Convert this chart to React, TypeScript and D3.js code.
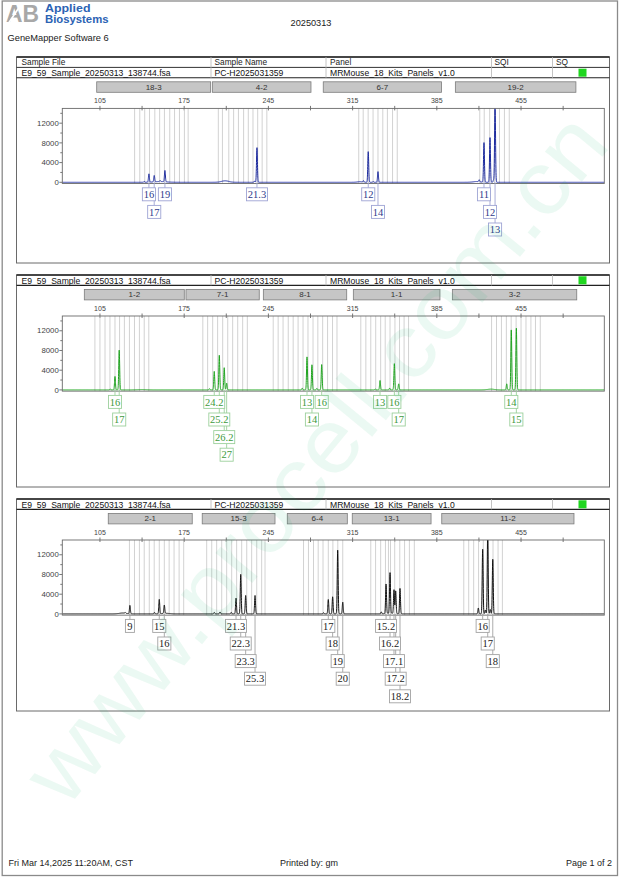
import React from "react";
import * as d3 from "d3";

// ---------------- data ----------------
const reportTitle = "20250313";
const softwareName = "GeneMapper Software 6";
const tableHeaders = ["Sample File", "Sample Name", "Panel", "SQI", "SQ"];
const sampleFile = "E9_59_Sample_20250313_138744.fsa";
const sampleName = "PC-H2025031359";
const panelName = "MRMouse_18_Kits_Panels_v1.0";
const footerLeft = "Fri Mar 14,2025 11:20AM, CST";
const footerMid = "Printed by: gm";
const footerRight = "Page 1 of 2";
const watermarkText = "www.procell.com.cn";

const sizeDomain = [73.7, 524.2];
const xTicks = [105, 140, 175, 210, 245, 280, 315, 350, 385, 420, 455, 490];
const xTickLabels = [105, 175, 245, 315, 385, 455];
const yTicks = [0, 2000, 4000, 6000, 8000, 10000, 12000, 14000];
const yTickLabels = [0, 4000, 8000, 12000];
const rfuMax = 15000;

// marker bars: [name, start bp, end bp]
const markersBlue: [string, number, number][] = [
  ["18-3", 102.3, 197.0], ["4-2", 198.4, 280.4], ["6-7", 290.6, 388.9], ["19-2", 400.4, 500.6],
];
const markersGreen: [string, number, number][] = [
  ["1-2", 92.0, 175.1], ["7-1", 176.5, 237.4], ["8-1", 240.8, 310.1], ["1-1", 315.6, 387.6], ["3-2", 397.9, 501.3],
];
const markersBlack: [string, number, number][] = [
  ["2-1", 111.9, 181.7], ["15-3", 190.0, 250.5], ["6-4", 260.7, 310.6], ["13-1", 314.7, 380.2], ["11-2", 389.1, 499.0],
];

// allele bins (bp)
const binsBlue = [
  133.8, 138.1, 142.2, 146.2, 150.6, 154.6, 158.6, 163.0, 167.0, 171.1, 175.2, 178.3,
  203.4, 206.8, 212.1, 216.1, 220.1, 224.4, 228.3, 232.2, 236.1, 239.8, 243.7,
  320.1, 323.8, 327.9, 332.0, 336.1, 340.1, 343.9, 348.2, 352.1,
  420.7, 424.4, 428.9, 433.0, 437.1, 441.2, 445.2,
];
const binsGreen = [
  100.8, 105.0, 109.2, 113.3, 117.5, 121.3, 125.3, 129.5, 133.7, 137.8, 141.8, 145.6,
  190.5, 194.5, 198.7, 202.8, 207.0, 211.2, 215.3, 219.5, 223.6, 227.5,
  249.0, 253.1, 257.2, 261.5, 265.6, 269.7, 273.8, 277.9, 282.1, 286.1, 290.1, 294.2, 298.3, 302.0,
  321.8, 326.0, 330.1, 334.2, 338.3, 342.1, 346.1, 350.2, 354.0, 357.8, 361.5,
  430.5, 434.6, 438.7, 442.8, 446.8, 450.9, 455.0, 459.1, 463.2, 467.0, 471.0,
];
const binsBlack = [
  129.5, 133.7, 137.8, 141.8, 146.0, 150.1, 154.3, 158.5, 162.5, 166.6, 170.8, 174.6,
  193.7, 197.9, 202.0, 206.2, 210.3, 214.5, 218.6, 222.8, 227.0, 231.1, 235.3, 239.4, 242.2,
  274.2, 278.3, 282.5, 286.4, 290.4, 294.8, 298.6, 302.7, 306.8,
  330.1, 334.1, 338.3, 342.3, 344.8, 346.5, 350.0, 354.2, 358.2, 362.2, 366.3,
  407.4, 411.5, 415.6, 419.7, 423.6, 427.6, 431.7, 435.9, 439.5,
];

// called alleles: [size bp, height RFU, allele]
const allelesBlue: [number, number, string][] = [
  [145.7, 1690, "16"], [150.1, 1290, "17"], [159.0, 2300, "19"], [235.5, 7040, "21.3"],
  [328.0, 6230, "12"], [336.1, 2170, "14"], [424.2, 8050, "11"], [429.2, 9070, "12"], [433.4, 16500, "13"],
];
const allelesGreen: [number, number, string][] = [
  [117.5, 2730, "16"], [121.0, 8070, "17"], [200.0, 3760, "24.2"], [204.2, 7040, "25.2"],
  [208.3, 4510, "26.2"], [210.3, 1370, "27"], [277.1, 6700, "13"], [281.2, 5100, "14"],
  [289.3, 5150, "16"], [337.8, 1910, "13"], [349.7, 5330, "16"], [353.3, 1230, "17"],
  [446.9, 12170, "14"], [451.1, 12510, "15"],
];
const allelesBlack: [number, number, string][] = [
  [129.9, 1700, "9"], [154.3, 2930, "15"], [158.5, 1700, "16"], [218.1, 3200, "21.3"],
  [222.0, 8030, "22.3"], [226.1, 3740, "23.3"], [233.9, 3740, "25.3"], [294.8, 2920, "17"],
  [298.4, 3470, "18"], [302.6, 12920, "19"], [306.8, 2380, "20"], [342.8, 5990, "15.2"],
  [346.1, 8230, "16.2"], [349.4, 4830, "17.1"], [350.8, 4630, "17.2"], [354.4, 5170, "18.2"],
  [423.1, 13130, "16"], [427.3, 16500, "17"], [431.5, 11090, "18"],
];

// uncalled small peaks: [size bp, height]
const minorBlue: [number, number][] = [
  [141.8, 150], [155.0, 200], [233.5, 250], [324.0, 300], [332.1, 150], [420.2, 400], [432.2, 500],
];
const minorGreen: [number, number][] = [
  [113.5, 200], [196.0, 250], [273.1, 350], [285.3, 300], [333.8, 200], [345.8, 350], [443.1, 1230],
];
const minorBlack: [number, number][] = [
  [126.0, 150], [150.3, 300], [200.0, 300], [204.8, 400], [214.1, 300], [290.8, 250],
  [338.8, 400], [419.5, 1200], [425.3, 800], [429.4, 900],
];

// broad baseline bumps: [center bp, height, width bp]
const bumpsBlue: [number, number, number][] = [[155, 150, 5], [209, 300, 3], [321, 120, 2], [418, 150, 3]];
const bumpsGreen: [number, number, number][] = [[140, 60, 4], [430, 150, 3]];
const bumpsBlack: [number, number, number][] = [[124, 180, 3], [160, 120, 3], [346, 150, 3]];

// ---------------- helpers ----------------
const xScale = d3.scaleLinear().domain(sizeDomain).range([62.3, 604.3]);
const grid = d3.range(sizeDomain[0], sizeDomain[1], 0.06);

function signal(bp: number, alleles: [number, number, string][], minor: [number, number][], bumps: [number, number, number][]) {
  let v = 0;
  const sig = 0.38;
  for (const [p, h] of alleles) {
    const d = (bp - p) / sig;
    if (Math.abs(d) < 7) v += h * Math.exp(-0.5 * d * d);
  }
  for (const [p, h] of minor) {
    const d = (bp - p) / sig;
    if (Math.abs(d) < 7) v += h * Math.exp(-0.5 * d * d);
  }
  for (const [p, h, w] of bumps) {
    const d = (bp - p) / w;
    if (Math.abs(d) < 5) v += h * Math.exp(-0.5 * d * d);
  }
  return v;
}

const LABEL_FS = 10.5;
function labelWidth(s: string) {
  const w = [...s].reduce((a, c) => a + (c === "." ? 0.25 : 0.5), 0) * LABEL_FS;
  return Math.max(w + 2.6, 9);
}

type Placed = { cx: number; l: number; r: number; row: number; text: string };
function layoutLabels(alleles: [number, number, string][]) {
  const sorted = [...alleles].sort((a, b) => a[0] - b[0]);
  const placed: Placed[] = [];
  for (const [bp, , text] of sorted) {
    const cx = xScale(bp);
    const w = labelWidth(text);
    const l = cx - w / 2, r = cx + w / 2;
    let row = 0;
    for (;;) {
      const boxClash = placed.some((p) => p.row === row && l < p.r - 0.3 && r > p.l + 0.3);
      const lineClash = placed.some((p) => p.row > row && p.cx > l + 0.3 && p.cx < r - 0.3);
      if (!boxClash && !lineClash) break;
      row++;
    }
    placed.push({ cx, l, r, row, text });
  }
  return placed;
}

const SANS = "Arial, 'Liberation Sans', Helvetica, sans-serif";
const SERIF = "'Times New Roman', 'Liberation Serif', serif";

type PanelDef = {
  top: number; bottom: number; header: boolean;
  markers: [string, number, number][]; bins: number[];
  alleles: [number, number, string][]; minor: [number, number][]; bumps: [number, number, number][];
  trace: string; labelText: string; labelStroke: string;
};

const panelDefs: PanelDef[] = [
  { top: 57, bottom: 263, header: true, markers: markersBlue, bins: binsBlue, alleles: allelesBlue, minor: minorBlue, bumps: bumpsBlue,
    trace: "#1c2a9e", labelText: "#2e3a8c", labelStroke: "#9ea4d4" },
  { top: 275, bottom: 487, header: false, markers: markersGreen, bins: binsGreen, alleles: allelesGreen, minor: minorGreen, bumps: bumpsGreen,
    trace: "#1fa31f", labelText: "#3d9a3d", labelStroke: "#9cd09c" },
  { top: 499, bottom: 711, header: false, markers: markersBlack, bins: binsBlack, alleles: allelesBlack, minor: minorBlack, bumps: bumpsBlack,
    trace: "#111111", labelText: "#222222", labelStroke: "#a3a3a3" },
];

const colX = [16.5, 211, 326, 491.5, 552.5, 609.5];
const colTextX = [21.5, 214.5, 330, 494.5, 556];

function Panel({ def, idx }: { def: PanelDef; idx: number }) {
  const rowH = 10.4;
  const dataTop = def.top + (def.header ? rowH : 0);
  const dataBottom = dataTop + rowH;
  const plotTop = dataTop + 41;
  const base = plotTop + 73.9;
  const y = d3.scaleLinear().domain([0, rfuMax]).range([base, plotTop]);
  const plotBottom = y(-250);
  const x0 = xScale.range()[0], x1 = xScale.range()[1];
  const pts: [number, number][] = grid.map((bp) => [bp, signal(bp, def.alleles, def.minor, def.bumps)]);
  const line = d3.line<[number, number]>().x((d) => xScale(d[0])).y((d) => y(d[1]));
  const labels = layoutLabels(def.alleles);
  const rowTop = (r: number) => base + 5.5 + r * 17.6;
  const clipId = `plotclip-${idx}`;
  const barTop = dataBottom + 4;

  return (
    <g>
      {/* panel frame */}
      <rect x={16.5} y={def.top} width={593} height={def.bottom - def.top} fill="none" stroke="#6a6a6a" strokeWidth={1} />
      {/* table */}
      <line x1={16.5} x2={609.5} y1={def.top} y2={def.top} stroke="#222" strokeWidth={1.3} />
      {def.header && <line x1={16.5} x2={609.5} y1={dataTop} y2={dataTop} stroke="#333" strokeWidth={1} />}
      <line x1={16.5} x2={609.5} y1={dataBottom} y2={dataBottom} stroke="#222" strokeWidth={1.1} />
      {colX.slice(1, 5).map((cx, i) => (
        <line key={i} x1={cx} x2={cx} y1={def.top} y2={dataBottom} stroke="#b5b5b5" strokeWidth={0.8} />
      ))}
      {def.header && tableHeaders.map((t, i) => (
        <text key={t} x={colTextX[i]} y={def.top + 8.2} fontSize={8.3} fill="#222" fontFamily={SANS}>{t}</text>
      ))}
      <text x={colTextX[0]} y={dataTop + 8.9} fontSize={8.6} fill="#111" fontFamily={SANS}>{sampleFile}</text>
      <text x={colTextX[1]} y={dataTop + 8.9} fontSize={8.6} fill="#111" fontFamily={SANS}>{sampleName}</text>
      <text x={colTextX[2]} y={dataTop + 8.9} fontSize={8.6} fill="#111" fontFamily={SANS}>{panelName}</text>
      <rect x={578.5} y={dataTop + 1.3} width={8} height={8} fill="#1fd61f" />

      {/* marker bars */}
      {def.markers.map(([name, s, e]) => (
        <g key={name}>
          <rect x={xScale(s)} y={barTop} width={xScale(e) - xScale(s)} height={10.5} fill="#c6c6c6" stroke="#7c7c7c" strokeWidth={0.8} />
          <text x={(xScale(s) + xScale(e)) / 2} y={barTop + 8} fontSize={8} textAnchor="middle" fill="#333" fontFamily={SANS}>{name}</text>
        </g>
      ))}

      {/* x axis on top */}
      {xTicks.map((t) => (
        <line key={t} x1={xScale(t)} x2={xScale(t)} y1={plotTop - 2.5} y2={plotTop + 2} stroke="#555" strokeWidth={0.8} />
      ))}
      {xTickLabels.map((t) => (
        <text key={t} x={xScale(t)} y={plotTop - 5} fontSize={7} textAnchor="middle" fill="#444" fontFamily={SANS}>{t}</text>
      ))}

      {/* y axis */}
      {yTicks.map((t) => (
        <line key={t} x1={yTickLabels.includes(t) ? x0 - 3 : x0 - 2} x2={x0} y1={y(t)} y2={y(t)} stroke="#555" strokeWidth={0.8} />
      ))}
      {yTickLabels.map((t) => (
        <text key={t} x={x0 - 3.5} y={y(t) + 2.7} fontSize={7.8} textAnchor="end" fill="#444" fontFamily={SANS}>{t}</text>
      ))}

      {/* bins */}
      <defs>
        <clipPath id={clipId}>
          <rect x={x0} y={plotTop} width={x1 - x0} height={plotBottom - plotTop + 0.5} />
        </clipPath>
      </defs>
      {def.bins.map((b, i) => (
        <line key={i} x1={xScale(b)} x2={xScale(b)} y1={plotTop} y2={plotBottom} stroke="#cdcdcd" strokeWidth={0.9} />
      ))}

      {/* trace */}
      <path d={line(pts) || ""} fill="none" stroke={def.trace} strokeWidth={1} clipPath={`url(#${clipId})`} strokeLinejoin="round" />

      {/* plot frame */}
      <rect x={x0} y={plotTop} width={x1 - x0} height={plotBottom - plotTop} fill="none" stroke="#6a6a6a" strokeWidth={0.9} />

      {/* allele labels */}
      {labels.map((p, i) => (
        <line key={"c" + i} x1={p.cx} x2={p.cx} y1={base} y2={rowTop(p.row)} stroke={def.labelStroke} strokeWidth={0.9} />
      ))}
      {labels.map((p, i) => (
        <g key={"b" + i}>
          <rect x={p.l} y={rowTop(p.row)} width={p.r - p.l} height={13} fill="#fff" stroke={def.labelStroke} strokeWidth={0.9} />
          <text x={p.cx} y={rowTop(p.row) + 10.2} fontSize={LABEL_FS} textAnchor="middle" fill={def.labelText} fontFamily={SERIF}>{p.text}</text>
        </g>
      ))}
    </g>
  );
}

export default function App() {
  return (
    <svg width={620} height={877} viewBox="0 0 620 877" style={{ position: "absolute", left: 0, top: 0, display: "block" }} fontFamily={SANS}>
      <rect x={0} y={0} width={620} height={877} fill="#fff" />
      <rect x={2.2} y={1} width={615.3} height={874.5} fill="none" stroke="#8a8a8a" strokeWidth={1.3} />

      {/* header / logo */}
      <g>
        <text x={6} y={22} fontSize={24} fontWeight="bold" fill="#a8a8a8" fontFamily={SANS} textLength={33} lengthAdjust="spacingAndGlyphs">AB</text>
        <line x1={8} y1={24} x2={22} y2={3} stroke="#fff" strokeWidth={1.6} />
        <text x={45} y={12.3} fontSize={11.5} fontWeight="bold" fill="#2c63b4" fontFamily={SANS} textLength={45.5} lengthAdjust="spacingAndGlyphs">Applied</text>
        <text x={45} y={23} fontSize={11.5} fontWeight="bold" fill="#2c63b4" fontFamily={SANS} textLength={63.5} lengthAdjust="spacingAndGlyphs">Biosystems</text>
        <text x={7.5} y={41} fontSize={9.3} fill="#222" fontFamily={SANS}>{softwareName}</text>
        <text x={311} y={25.5} fontSize={9.2} textAnchor="middle" fill="#222" fontFamily={SANS}>{reportTitle}</text>
      </g>

      {panelDefs.map((def, i) => (
        <Panel key={i} def={def} idx={i} />
      ))}

      {/* footer */}
      <text x={8.5} y={865.5} fontSize={9} fill="#222" fontFamily={SANS}>{footerLeft}</text>
      <text x={309} y={865.5} fontSize={9} textAnchor="middle" fill="#222" fontFamily={SANS}>{footerMid}</text>
      <text x={612} y={865.5} fontSize={9} textAnchor="end" fill="#222" fontFamily={SANS}>{footerRight}</text>

      {/* watermark */}
      <text
        x={0} y={0}
        transform="translate(42,790) rotate(-50.6)"
        fontSize={90} fill="#00b060" fillOpacity={0.08}
        dominantBaseline="central" fontFamily={SANS}
        textLength={860} lengthAdjust="spacingAndGlyphs"
      >{watermarkText}</text>
    </svg>
  );
}
